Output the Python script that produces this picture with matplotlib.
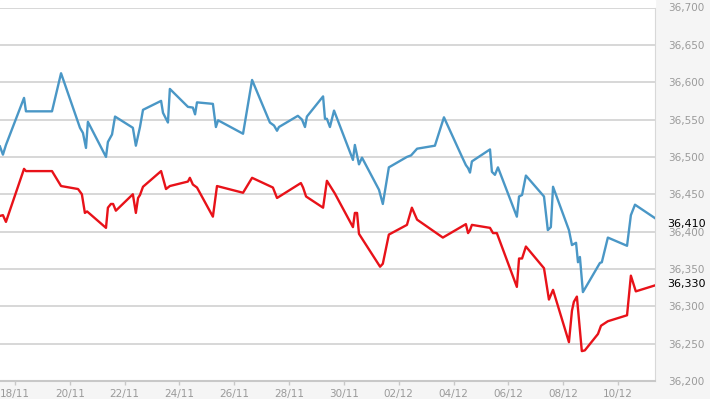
import matplotlib.pyplot as plt
from matplotlib.patches import Rectangle

# dias contados desde el 18/11 a las 00:00
dias_azul = [-0.55, -0.44, -0.33, 0.33, 0.40, 1.35, 1.68, 2.37, 2.48, 2.59, 2.66,
             3.32, 3.39, 3.54, 3.65, 4.30, 4.41, 4.56, 4.67, 5.33, 5.40, 5.58,
             5.65, 6.31, 6.49, 6.57, 6.64, 7.22, 7.33, 7.41, 8.32, 8.65, 9.30,
             9.45, 9.56, 9.63, 10.32, 10.47, 10.58, 10.65, 11.24, 11.31, 11.38,
             11.49, 11.64, 12.33, 12.40, 12.55, 12.66, 13.28, 13.42, 13.64,
             14.30, 14.45, 14.67, 15.32, 15.65, 16.31, 16.45, 16.53, 16.60,
             16.67, 17.33, 17.40, 17.51, 17.62, 18.31, 18.39, 18.50, 18.64,
             19.30, 19.44, 19.55, 19.63, 20.21, 20.32, 20.47, 20.54, 20.61,
             20.72, 21.34, 21.41, 21.63, 22.33, 22.47, 22.62, 23.35]
valores_azul = [36514, 36503, 36516, 36579, 36561, 36561, 36612, 36539, 36532,
                36512, 36547, 36500, 36520, 36530, 36554, 36539, 36515, 36540,
                36563, 36575, 36559, 36546, 36591, 36567, 36566, 36557, 36573,
                36571, 36540, 36549, 36531, 36603, 36546, 36542, 36535, 36540,
                36555, 36550, 36540, 36554, 36581, 36551, 36551, 36540, 36562,
                36496, 36516, 36490, 36499, 36456, 36437, 36486, 36500, 36502,
                36511, 36515, 36553, 36500, 36489, 36485, 36479, 36494, 36510,
                36480, 36476, 36486, 36420, 36447, 36449, 36475, 36447, 36402,
                36406, 36460, 36402, 36382, 36385, 36359, 36366, 36319, 36358,
                36359, 36392, 36381, 36422, 36436, 36418]

dias_rojo = [-0.55, -0.44, -0.33, 0.33, 0.40, 1.35, 1.68, 2.30, 2.44, 2.55, 2.63,
             3.32, 3.39, 3.50, 3.58, 3.68, 4.30, 4.41, 4.49, 4.56, 4.67, 5.33,
             5.51, 5.65, 6.31, 6.38, 6.49, 6.64, 7.22, 7.37, 8.32, 8.65, 9.41,
             9.56, 10.43, 10.51, 10.62, 11.24, 11.38, 11.67, 12.33, 12.40, 12.48,
             12.55, 13.32, 13.42, 13.64, 14.30, 14.48, 14.67, 15.61, 16.45,
             16.53, 16.60, 16.67, 17.33, 17.44, 17.58, 18.31, 18.39, 18.50,
             18.64, 19.30, 19.48, 19.63, 20.21, 20.32, 20.39, 20.50, 20.68,
             20.79, 21.27, 21.38, 21.63, 22.33, 22.47, 22.65, 23.35]
valores_rojo = [36421, 36422, 36413, 36484, 36481, 36481, 36461, 36457, 36450,
                36425, 36427, 36405, 36432, 36437, 36437, 36428, 36450, 36425,
                36445, 36449, 36460, 36481, 36457, 36461, 36467, 36472, 36463,
                36459, 36420, 36461, 36452, 36472, 36459, 36445, 36465, 36459,
                36447, 36432, 36468, 36451, 36406, 36425, 36425, 36397, 36353,
                36357, 36396, 36409, 36432, 36416, 36392, 36410, 36398, 36402,
                36409, 36405, 36398, 36398, 36326, 36364, 36364, 36380, 36351,
                36309, 36322, 36252, 36294, 36306, 36313, 36240, 36241, 36263,
                36274, 36280, 36288, 36341, 36320, 36328]

ticks_dias = [0, 2, 4, 6, 8, 10, 12, 14, 16, 18, 20, 22]
etiquetas_x = ['18/11', '20/11', '22/11', '24/11', '26/11', '28/11', '30/11',
               '02/12', '04/12', '06/12', '08/12', '10/12']
ticks_y = [36200, 36250, 36300, 36350, 36400, 36450, 36500, 36550, 36600,
           36650, 36700]
ultimos = [36410, 36330]


def main():
    fig = plt.figure(figsize=(7.1, 3.99), dpi=100, facecolor='#f5f5f5')
    abajo, alto, ancho = 18 / 399, 373.5 / 399, 655 / 710
    ax = fig.add_axes([0, abajo, ancho, alto])
    ax.set_facecolor('white')
    # franja blanca sobre el grafico
    fig.patches.append(Rectangle((0, abajo + alto), ancho, 1 - abajo - alto,
                                 transform=fig.transFigure, color='white', zorder=-1))

    ax.plot(dias_azul, valores_azul, color='#4a97c6', lw=1.7, zorder=3)
    ax.plot(dias_rojo, valores_rojo, color='#e81219', lw=1.7, zorder=3)

    ax.set_xlim(-0.547, 23.35)
    ax.set_ylim(36200, 36700)
    ax.set_xticks(ticks_dias)
    ax.set_xticklabels(etiquetas_x)
    ax.set_yticks(ticks_y)
    ax.set_yticklabels([f'{v:,}' for v in ticks_y])
    ax.yaxis.tick_right()
    ax.tick_params(axis='y', length=0, pad=9.5, labelsize=7.5, labelcolor='#9a9a9a')
    ax.tick_params(axis='x', length=3, width=1, color='#c8c8c8', pad=3,
                   labelsize=7.5, labelcolor='#9a9a9a')

    ax.grid(axis='y', color='#d4d4d4', lw=1.3)
    ax.set_axisbelow(True)
    for lado in ['top', 'left']:
        ax.spines[lado].set_visible(False)
    ax.spines['right'].set_color('#d8d8d8')
    ax.spines['bottom'].set_color('#c8c8c8')
    ax.spines['bottom'].set_linewidth(1.5)

    for v in ultimos:
        ax.annotate(f'{v:,}', xy=(1, v), xycoords=('axes fraction', 'data'),
                    xytext=(9, 0), textcoords='offset points', va='center',
                    ha='left', fontsize=8, color='black')

    fig.savefig('out.png', dpi=100, facecolor=fig.get_facecolor())


if __name__ == "__main__":
    main()
